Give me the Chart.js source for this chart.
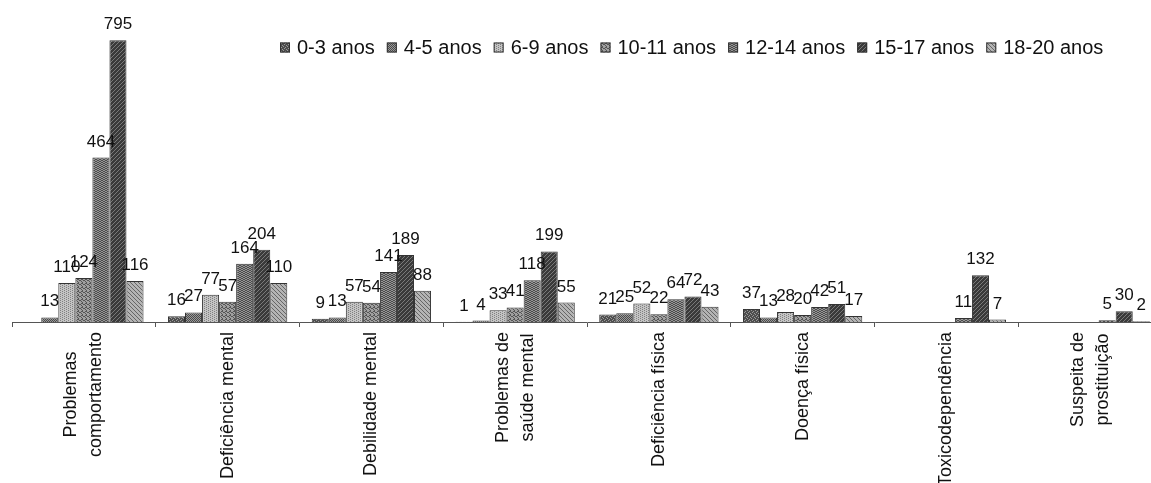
<!DOCTYPE html>
<html>
<head>
<meta charset="utf-8">
<script src="https://cdn.jsdelivr.net/npm/chart.js@4.4.0/dist/chart.umd.min.js"></script>
<style>
  html, body { margin: 0; padding: 0; background: #fff; overflow: hidden; }
  #wrap { position: relative; width: 1162px; height: 483px; }
</style>
</head>
<body>
<div id="wrap"><canvas id="chart"></canvas></div>
<script>
// categorias (eixo x) e faixas etárias
const categories = [
    ['Problemas', 'comportamento'],
    ['Deficiência mental'],
    ['Debilidade mental'],
    ['Problemas de', 'saúde mental'],
    ['Deficiência física'],
    ['Doença física'],
    ['Toxicodependência'],
    ['Suspeita de', 'prostituição']
];
const seriesNames = ['0-3 anos', '4-5 anos', '6-9 anos', '10-11 anos', '12-14 anos', '15-17 anos', '18-20 anos'];

const age0to3 = [0, 16, 9, 1, 21, 37, 0, 0];
const age4to5 = [13, 27, 13, 4, 25, 13, 0, 0];
const age6to9 = [110, 77, 57, 33, 52, 28, 0, 0];
const age10to11 = [124, 57, 54, 41, 22, 20, 0, 0];
const age12to14 = [464, 164, 141, 118, 64, 42, 11, 5];
const age15to17 = [795, 204, 189, 199, 72, 51, 132, 30];
const age18to20 = [116, 110, 88, 55, 43, 17, 7, 2];

const seriesValues = [age0to3, age4to5, age6to9, age10to11, age12to14, age15to17, age18to20];

const FONT = '"Liberation Sans", Arial, sans-serif';

// tramas cinzentas, parecidas com as do Excel impresso
function makePattern(base, dot, mask) {
    const c = document.createElement('canvas');
    c.width = 4;
    c.height = 4;
    const g = c.getContext('2d');
    g.fillStyle = base;
    g.fillRect(0, 0, 4, 4);
    g.fillStyle = dot;
    for (let i = 0; i < 16; i++) {
        if (mask[i] === '1') g.fillRect(i % 4, Math.floor(i / 4), 1, 1);
    }
    return g.createPattern(c, 'repeat');
}

const seriesFills = [
    makePattern('#4e4e4e', '#9a9a9a', '1000001000010100'),
    makePattern('#9a9a9a', '#4a4a4a', '1010010110100101'),
    makePattern('#c4c4c4', '#808080', '1000001010000010'),
    makePattern('#a0a0a0', '#555555', '1001010000100110'),
    makePattern('#969696', '#4c4c4c', '0110100101101001'),
    makePattern('#3a3a3a', '#7a7a7a', '1000000100100100'),
    makePattern('#b4b4b4', '#666666', '1000010000100001')
];

// rótulos de valor acima das barras
const valueLabels = {
    id: 'valueLabels',
    afterDatasetsDraw(chart) {
        const ctx = chart.ctx;
        ctx.save();
        ctx.font = '17px ' + FONT;
        ctx.fillStyle = '#111';
        ctx.textAlign = 'center';
        ctx.textBaseline = 'alphabetic';
        chart.data.datasets.forEach((ds, i) => {
            chart.getDatasetMeta(i).data.forEach((bar, j) => {
                const v = ds.data[j];
                if (!v) return;
                ctx.fillText(String(v), bar.x, bar.y - 11);
            });
        });
        ctx.restore();
    }
};

// legenda numa linha, por cima da área do gráfico
const topLegend = {
    id: 'topLegend',
    afterDraw(chart) {
        const ctx = chart.ctx;
        ctx.save();
        ctx.font = '20px ' + FONT;
        ctx.textBaseline = 'middle';
        let x = 280;
        const y = 47;
        chart.data.datasets.forEach(ds => {
            ctx.fillStyle = ds.backgroundColor;
            ctx.fillRect(x, y - 4.5, 10, 10);
            ctx.strokeStyle = '#333';
            ctx.lineWidth = 1;
            ctx.strokeRect(x + 0.5, y - 4, 9, 9);
            x += 10 + 7;
            ctx.fillStyle = '#111';
            ctx.fillText(ds.label, x, y + 1);
            x += ctx.measureText(ds.label).width + 12;
        });
        ctx.restore();
    }
};

// rótulos das categorias, verticais e centrados
const categoryLabels = {
    id: 'categoryLabels',
    afterDraw(chart) {
        const xs = chart.scales.x;
        const ctx = chart.ctx;
        ctx.save();
        ctx.font = '18px ' + FONT;
        ctx.fillStyle = '#111';
        ctx.textAlign = 'center';
        ctx.textBaseline = 'middle';
        const lh = 25;
        const top = xs.top + 10;
        chart.data.labels.forEach((lines, i) => {
            const cx = xs.getPixelForValue(i);
            const maxW = Math.max(...lines.map(l => ctx.measureText(l).width));
            lines.forEach((line, j) => {
                const off = (j - (lines.length - 1) / 2) * lh;
                ctx.save();
                ctx.translate(cx + off, top);
                ctx.rotate(-Math.PI / 2);
                ctx.fillText(line, -maxW / 2, 0);
                ctx.restore();
            });
        });
        ctx.restore();
    }
};

const ctx = document.getElementById('chart').getContext('2d');
const chart = new Chart(ctx, {
    type: 'bar',
    data: {
        labels: categories,
        datasets: seriesNames.map((name, i) => ({
            label: name,
            data: seriesValues[i],
            backgroundColor: seriesFills[i],
            borderColor: '#333',
            borderWidth: 1,
            categoryPercentage: 0.83,
            barPercentage: 1.0
        }))
    },
    options: {
        responsive: true,
        maintainAspectRatio: false,
        animation: false,
        events: [],
        layout: { padding: { left: 12, top: 3, right: 0, bottom: 0 } },
        plugins: {
            legend: { display: false },
            tooltip: { enabled: false }
        },
        scales: {
            x: {
                offset: true,
                border: { display: true, color: '#555', width: 1 },
                grid: {
                    offset: true,
                    drawOnChartArea: false,
                    drawTicks: true,
                    tickLength: 5,
                    color: '#555'
                },
                ticks: { display: false },
                afterFit(scale) { scale.height = 161; }
            },
            y: {
                display: false,
                min: 0,
                max: 900
            }
        }
    },
    plugins: [valueLabels, topLegend, categoryLabels]
});
</script>
</body>
</html>
